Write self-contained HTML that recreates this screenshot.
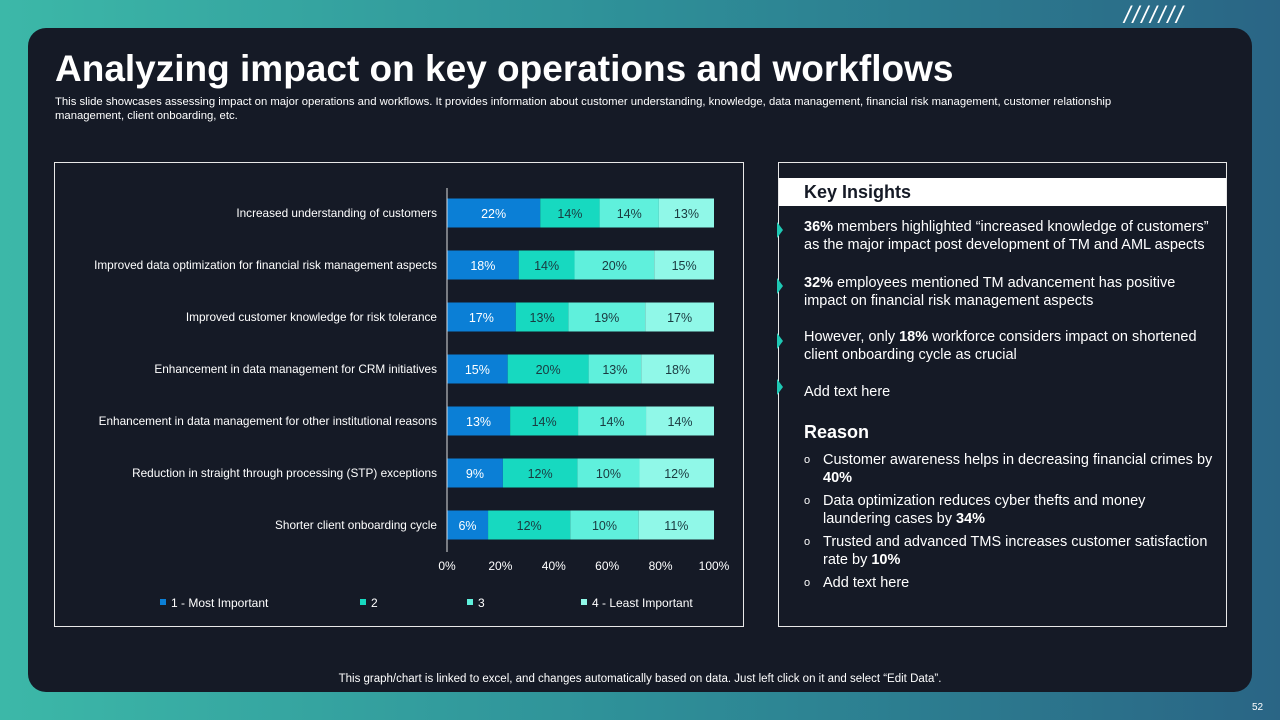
<!DOCTYPE html>
<html><head><meta charset="utf-8"><style>
body{margin:0;width:1280px;height:720px;overflow:hidden;font-family:"Liberation Sans",sans-serif;background:linear-gradient(90deg,#3cb8a8 0%,#2e8f98 50%,#2a6585 100%);position:relative}
.panel{position:absolute;left:28px;top:28px;width:1224px;height:664px;background:#151a26;border-radius:18px}
.abs{position:absolute}
h1{position:absolute;left:55px;top:48px;margin:0;font-size:37px;color:#fff;font-weight:bold}
.sub{left:55px;top:95px;width:1090px;font-size:11.3px;color:#fff;line-height:14px}
.box{border:1px solid #e8e8e8}
.ins{color:#fff;font-size:14.5px;line-height:18px}
.arrow{position:absolute;left:777px;width:0;height:0;border-top:8px solid transparent;border-bottom:8px solid transparent;border-left:6px solid #1ec8b4}
</style></head><body>
<div class="panel"></div>
<div class="abs" style="left:1124px;top:2px;font-size:24px;color:#fff;letter-spacing:2px;font-style:italic">///////</div>
<h1>Analyzing impact on key operations and workflows</h1>
<div class="abs sub">This slide showcases assessing impact on major operations and workflows. It provides information about customer understanding, knowledge, data management, financial risk management, customer relationship management, client onboarding, etc.</div>
<div class="abs box" style="left:54px;top:162px;width:688px;height:463px"></div>
<svg id="chart" class="abs" style="left:0;top:0" width="1280" height="720"></svg>
<div class="abs box" style="left:778px;top:162px;width:447px;height:463px"></div>
<div class="abs" style="left:779px;top:178px;width:447px;height:28px;background:#fff;color:#151a26;font-size:18px;font-weight:bold;line-height:28px;padding-left:25px;box-sizing:border-box">Key Insights</div>
<div class="arrow" style="top:222px"></div>
<div class="arrow" style="top:278px"></div>
<div class="arrow" style="top:333px"></div>
<div class="arrow" style="top:379px"></div>
<div class="abs ins" style="left:804px;top:218px;width:415px"><b>36%</b> members highlighted “increased knowledge of customers” as the major impact post development of TM and AML aspects</div>
<div class="abs ins" style="left:804px;top:274px;width:400px"><b>32%</b> employees mentioned TM advancement has positive impact on financial risk management aspects</div>
<div class="abs ins" style="left:804px;top:328px;width:405px">However, only <b>18%</b> workforce considers impact on shortened client onboarding cycle as crucial</div>
<div class="abs ins" style="left:804px;top:383px">Add text here</div>
<div class="abs" style="left:804px;top:422px;color:#fff;font-size:18px;font-weight:bold">Reason</div>
<div class="abs ins" style="left:804px;top:452px;width:412px;line-height:17.5px">
<div style="position:relative;padding-left:19px;margin-bottom:6px"><span style="position:absolute;left:0;font-size:11px">o</span>Customer awareness helps in decreasing financial crimes by <b>40%</b></div>
<div style="position:relative;padding-left:19px;margin-bottom:6px"><span style="position:absolute;left:0;font-size:11px">o</span>Data optimization reduces cyber thefts and money laundering cases by <b>34%</b></div>
<div style="position:relative;padding-left:19px;margin-bottom:6px"><span style="position:absolute;left:0;font-size:11px">o</span>Trusted and advanced TMS increases customer satisfaction rate by <b>10%</b></div>
<div style="position:relative;padding-left:19px"><span style="position:absolute;left:0;font-size:11px">o</span>Add text here</div>
</div>
<div class="abs" style="left:0;width:1280px;top:673px;text-align:center;color:#fff;font-size:11.5px">This graph/chart is linked to excel,  and changes automatically based on data. Just left click on it and select “Edit Data”.</div>
<div class="abs" style="left:1252px;top:702px;color:#fff;font-size:10px">52</div>
<script>
const categories=["Increased understanding  of customers","Improved data optimization for financial risk management aspects","Improved customer knowledge for risk tolerance","Enhancement in data management for CRM initiatives","Enhancement in data management for other institutional reasons","Reduction in straight through processing (STP) exceptions","Shorter client onboarding cycle"];
const s1=[22,18,17,15,13,9,6];
const s2=[14,14,13,20,14,12,12];
const s3=[14,20,19,13,14,10,10];
const s4=[13,15,17,18,14,12,11];
const seriesNames=["1 - Most Important","2","3","4 - Least Important"];
const ticks=[0,20,40,60,80,100];
const colors=["#0b7fd6","#17d9c0","#5ff0dc","#90f8e8"];
const txt=["#fff","#1a3a40","#1a3a40","#1a3a40"];
const svg=document.getElementById('chart');const NS="http://www.w3.org/2000/svg";
const x0=447,x1=714,yTop=188,rowH=52,barH=29;
const xs=p=>x0+(x1-x0)*p/100;
const ys=i=>yTop+rowH*i+rowH/2-1;
function mk(t,a,txtc){const e=document.createElementNS(NS,t);for(const k in a)e.setAttribute(k,a[k]);if(txtc!=null)e.textContent=txtc;svg.appendChild(e);return e;}
const series=[s1,s2,s3,s4];
categories.forEach((c,i)=>{
 const tot=series.reduce((a,s)=>a+s[i],0);let acc=0;const yc=ys(i);
 const l=mk('text',{x:437,y:yc+4,'text-anchor':'end','font-size':'11.8',fill:'#fff','font-family':'Liberation Sans'},c);
 
 
 series.forEach((s,k)=>{
  const p0=acc/tot*100;acc+=s[i];const p1=acc/tot*100;
  const r=mk('rect',{x:xs(p0),y:yc-barH/2,width:xs(p1)-xs(p0),height:barH,fill:colors[k]});
  
  
  const t=mk('text',{x:(xs(p0)+xs(p1))/2,y:yc+5,'text-anchor':'middle','font-size':'12.5',fill:txt[k],'font-family':'Liberation Sans'},s[i]+'%');
  
  
 });
});
const ax=mk('line',{x1:x0,x2:x0,y1:yTop,y2:yTop+rowH*7,stroke:'#ddd','stroke-width':1});


ticks.forEach(t=>{const e=mk('text',{x:xs(t),y:570,'text-anchor':'middle','font-size':'12',fill:'#fff','font-family':'Liberation Sans'},t+'%');
 
 });
const lx=[160,360,467,581];
seriesNames.forEach((n,k)=>{
 const r=mk('rect',{x:lx[k],y:599,width:6,height:6,fill:colors[k]});
 
 
 const t=mk('text',{x:lx[k]+11,y:607,'font-size':'12',fill:'#fff','font-family':'Liberation Sans'},n);
 
 
});
</script>
</body></html>
